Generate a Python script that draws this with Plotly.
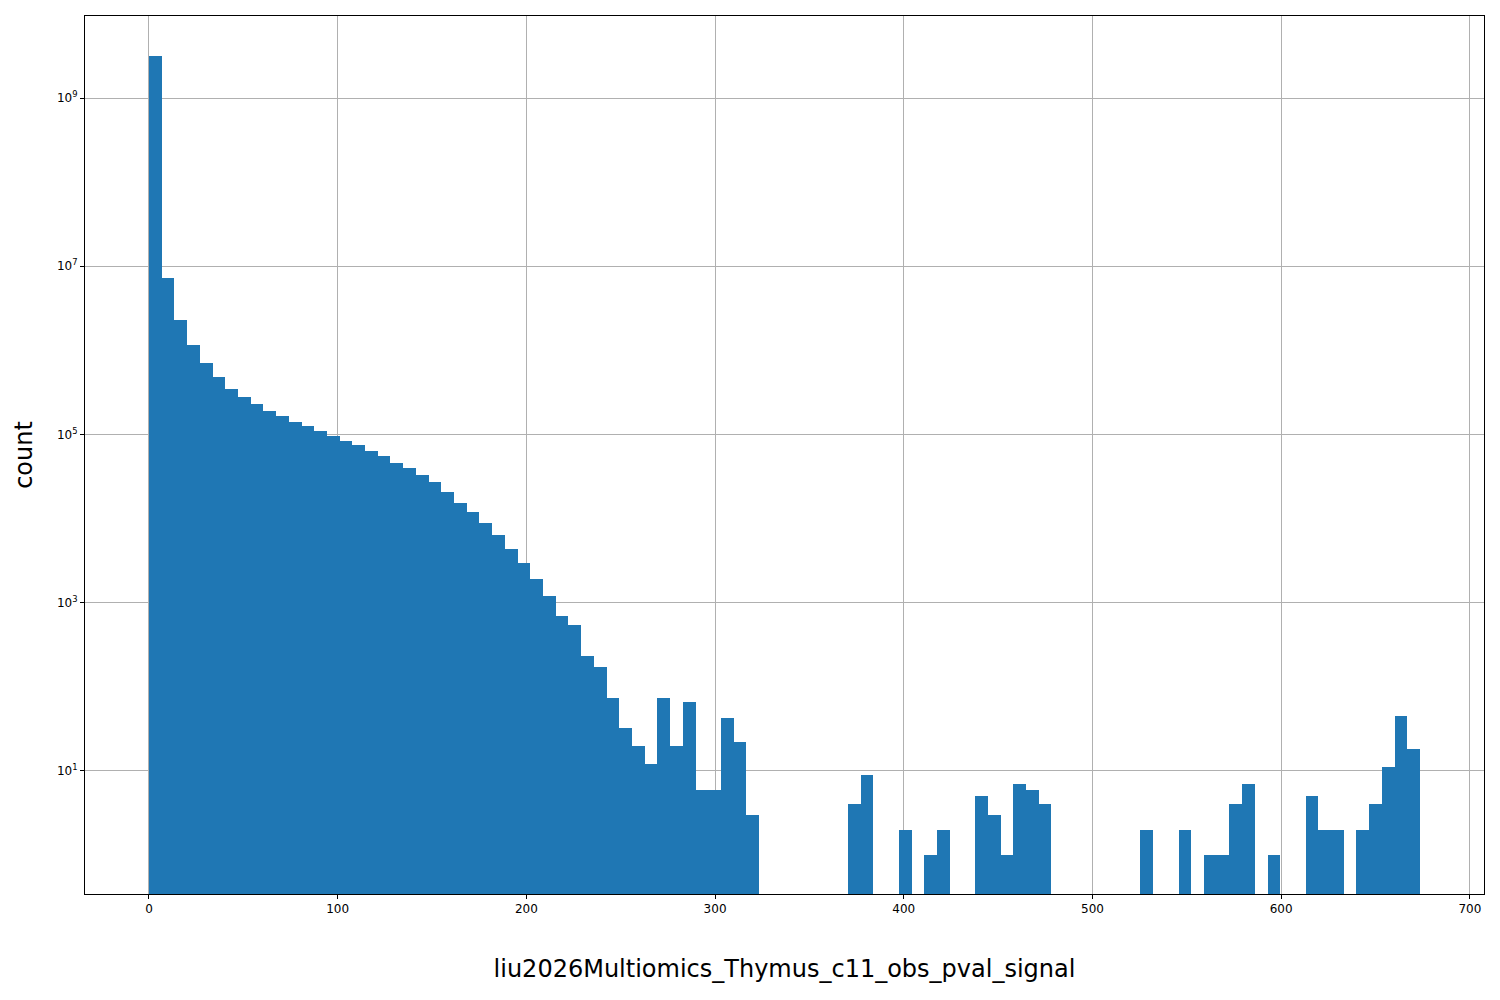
import numpy as np
import plotly.graph_objects as go

# histogram: 100 equal bins between min and max of the signal
sig_min = 0.0
sig_max = 673.6
counts = [
    3.2e9, 7.2e6, 2.3e6, 1.15e6, 7.0e5, 4.8e5, 3.5e5, 2.8e5, 2.3e5, 1.9e5,
    1.65e5, 1.4e5, 1.25e5, 1.1e5, 9.7e4, 8.3e4, 7.4e4, 6.4e4, 5.5e4, 4.6e4,
    4.0e4, 3.3e4, 2.7e4, 2.05e4, 1.55e4, 1.2e4, 8900, 6400, 4400, 3000,
    1900, 1200, 700, 550, 230, 170, 73, 32, 20, 12,
    74, 20, 66, 6, 6, 42, 22, 3, 0, 0,
    0, 0, 0, 0, 0, 4, 9, 0, 0, 2,
    0, 1, 2, 0, 0, 5, 3, 1, 7, 6,
    4, 0, 0, 0, 0, 0, 0, 0, 2, 0,
    0, 2, 0, 1, 1, 4, 7, 0, 1, 0,
    0, 5, 2, 2, 0, 2, 4, 11, 45, 18,
]

edges = np.linspace(sig_min, sig_max, len(counts) + 1)
centers = (edges[:-1] + edges[1:]) / 2
width = edges[1] - edges[0]

x = [c for c, n in zip(centers, counts) if n > 0]
y = [n for n in counts if n > 0]

fig = go.Figure(go.Bar(x=x, y=y, width=width, marker=dict(color='#1f77b4', line=dict(width=0))))

decades = [1, 3, 5, 7, 9]
axis_style = dict(showline=True, linecolor='black', linewidth=1, mirror=True,
                  showgrid=True, gridcolor='#b0b0b0', gridwidth=1,
                  ticks='outside', ticklen=4, tickcolor='black',
                  tickfont=dict(size=12, color='black'), zeroline=False,
                  automargin=False)

fig.update_layout(
    width=1500, height=1000,
    plot_bgcolor='white', paper_bgcolor='white',
    margin=dict(l=77, r=24, t=8, b=114),
    font=dict(family='DejaVu Sans', color='black'),
    showlegend=False, bargap=0,
    xaxis=dict(range=[-33.9, 707.5], tickvals=list(range(0, 701, 100)),
               title=dict(text='liu2026Multiomics_Thymus_c11_obs_pval_signal', font=dict(size=24), standoff=44),
               **axis_style),
    yaxis=dict(type='log', range=[-0.464, 9.976],
               tickvals=[10 ** d for d in decades],
               ticktext=[f'10<sup>{d}</sup>' for d in decades],
               title=dict(text='count', font=dict(size=24), standoff=17),
               **axis_style),
)

fig.write_html("out.html")
